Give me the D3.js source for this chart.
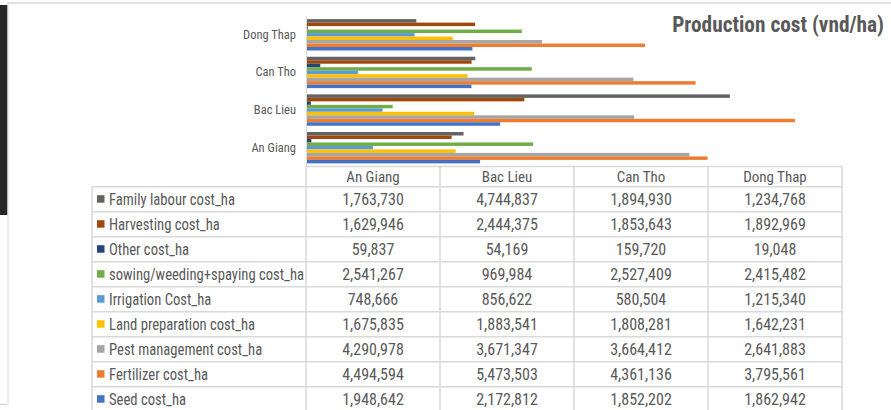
<!DOCTYPE html>
<html><head><meta charset="utf-8">
<script src="https://cdn.jsdelivr.net/npm/d3@7"></script>
<style>
html,body{margin:0;padding:0;background:#fff;}
svg{display:block;}
text{font-family:"Liberation Sans Narrow","Arial Narrow","Roboto Condensed",Roboto,sans-serif;fill:#595959;}
</style></head>
<body><svg id="chart" width="891" height="410"></svg>
<script>
const categories = ["An Giang","Bac Lieu","Can Tho","Dong Thap"];
const seriesNames = ["Family labour cost_ha","Harvesting cost_ha","Other cost_ha","sowing/weeding+spaying cost_ha","Irrigation Cost_ha","Land preparation cost_ha","Pest management cost_ha","Fertilizer cost_ha","Seed cost_ha"];
const familyLabour = [1763730,4744837,1894930,1234768];
const harvesting = [1629946,2444375,1853643,1892969];
const other = [59837,54169,159720,19048];
const sowing = [2541267,969984,2527409,2415482];
const irrigation = [748666,856622,580504,1215340];
const landPrep = [1675835,1883541,1808281,1642231];
const pest = [4290978,3671347,3664412,2641883];
const fertilizer = [4494594,5473503,4361136,3795561];
const seed = [1948642,2172812,1852202,1862942];
const colors = ["#636363","#9E480E","#264478","#70AD47","#5B9BD5","#FFC000","#A5A5A5","#ED7D31","#4472C4"];
const title = "Production cost (vnd/ha)";

const seriesValues = [familyLabour,harvesting,other,sowing,irrigation,landPrep,pest,fertilizer,seed];
const series = seriesNames.map((n,i)=>({name:n,values:seriesValues[i],color:colors[i]}));

const svg = d3.select("#chart");
const grid = "#d9d9d9";

// frame decorations
svg.append("rect").attr("x",0).attr("y",5).attr("width",7.5).attr("height",210).attr("fill","#262626");
svg.append("line").attr("x1",7.5).attr("x2",891).attr("y1",3).attr("y2",3).attr("stroke","#d6d6d6").attr("stroke-width",1.5);
svg.append("line").attr("x1",8).attr("x2",8).attr("y1",3).attr("y2",405).attr("stroke","#dcdcdc").attr("stroke-width",1);
svg.append("line").attr("x1",0).attr("x2",7).attr("y1",404.5).attr("y2",404.5).attr("stroke","#d6d6d6").attr("stroke-width",1.5);

const plotLeft = 306, plotRight = 842, plotTop = 16, plotBottom = 166.5;
const x = d3.scaleLinear().domain([0,6000000]).range([plotLeft,plotRight]);
const yCat = d3.scaleBand().domain(categories.slice().reverse()).range([plotTop,plotBottom]).paddingInner(0.166).paddingOuter(0.083);
const ySer = d3.scaleBand().domain(seriesNames).range([0,yCat.bandwidth()]);

const groups = svg.append("g").selectAll("g").data(categories).join("g")
  .attr("transform",c=>`translate(0,${yCat(c)})`);
groups.selectAll("rect").data((c,ci)=>series.map(s=>({s:s,v:s.values[categories.indexOf(c)]}))).join("rect")
  .attr("x",x(0)).attr("y",d=>ySer(d.s.name)).attr("height",ySer.bandwidth())
  .attr("width",d=>x(d.v)-x(0)).attr("fill",d=>d.s.color);

// category axis
const yAxis = d3.axisLeft(yCat).tickSize(0).tickPadding(10);
const ag = svg.append("g").attr("transform",`translate(${plotLeft},0)`).call(yAxis);
ag.select(".domain").attr("stroke",grid);
ag.selectAll("text").attr("font-size",12.5).style("fill","#595959").style("font-family",null);

// title
svg.append("text").attr("transform","translate(884,32) scale(0.97,1)").attr("text-anchor","end").attr("font-size",22).attr("font-weight","bold").style("fill","#595959").text(title);

// data table
const tableLeft = 92, headerTop = plotBottom, rowTop = 186.7, rowH = 25;
const col = d3.scaleBand().domain(categories).range([plotLeft,plotRight]);
const fmt = d3.format(",");
const tg = svg.append("g");
tg.append("line").attr("x1",plotLeft).attr("x2",plotRight).attr("y1",headerTop).attr("y2",headerTop).attr("stroke",grid).attr("stroke-width",1.5);
for(let i=0;i<=seriesNames.length;i++){
  tg.append("line").attr("x1",tableLeft).attr("x2",plotRight).attr("y1",rowTop+i*rowH).attr("y2",rowTop+i*rowH).attr("stroke",grid).attr("stroke-width",1.5);
}
tg.append("line").attr("x1",tableLeft).attr("x2",tableLeft).attr("y1",rowTop).attr("y2",410).attr("stroke",grid).attr("stroke-width",1.5);
categories.forEach(c=>{
  tg.append("line").attr("x1",col(c)).attr("x2",col(c)).attr("y1",headerTop).attr("y2",410).attr("stroke",grid).attr("stroke-width",1.5);
});
tg.append("line").attr("x1",plotRight).attr("x2",plotRight).attr("y1",headerTop).attr("y2",410).attr("stroke",grid).attr("stroke-width",1.5);
tg.selectAll("text.hdr").data(categories).join("text").attr("class","hdr")
  .attr("x",c=>col(c)+col.bandwidth()/2).attr("y",(headerTop+rowTop)/2+5.5)
  .attr("text-anchor","middle").attr("font-size",15).text(c=>c);
series.forEach((s,i)=>{
  const cy = rowTop + i*rowH + rowH/2;
  tg.append("rect").attr("x",97).attr("y",cy-4).attr("width",7.5).attr("height",7.5).attr("fill",s.color);
  tg.append("text").attr("transform",`translate(109,${cy+6}) scale(0.915,1)`).attr("font-size",16).text(s.name);
  categories.forEach((c,ci)=>{
    tg.append("text").attr("x",col(c)+col.bandwidth()/2).attr("y",cy+6).attr("text-anchor","middle").attr("font-size",16).text(fmt(s.values[ci]));
  });
});
</script></body></html>
